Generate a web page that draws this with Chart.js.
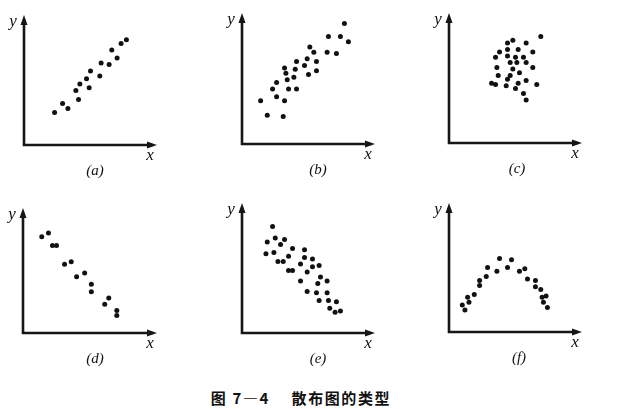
<!DOCTYPE html>
<html lang="zh">
<head>
<meta charset="UTF-8">
<title>散布图的类型</title>
<script src="https://cdn.jsdelivr.net/npm/chart.js"></script>
<style>
  body { margin: 0; background: #fff; }
  #page { position: relative; width: 618px; height: 409px; overflow: hidden; }
  canvas { position: absolute; }
  .lbl { position: absolute; font-family: "Liberation Serif", "DejaVu Serif", serif; font-style: italic; color: #111; transform: translate(-50%, -50%); }
  .ax { font-size: 17px; }
  .tag { font-size: 15px; }
  #caption { position: absolute; left: 0; width: 602px; top: 387px; text-align: center; font-family: "Noto Sans CJK SC", sans-serif; font-weight: bold; font-size: 15px; color: #111; letter-spacing: 1.6px; }
</style>
</head>
<body>
<div id="page">
  <div id="caption">图 7—4　&nbsp;散布图的类型</div>
</div>

<script>
// panel tags
const tags = ['(a)', '(b)', '(c)', '(d)', '(e)', '(f)'];

// point values (0..100 along each axis)
const aX = [23, 29, 33, 41, 39, 42, 47, 49, 50, 57, 58, 64, 66, 70, 73, 77];
const aY = [25, 32, 28, 35, 42, 47, 51, 44, 57, 53, 63, 62, 73, 67, 78, 81];

const bX = [14, 19, 31, 32, 26, 23, 26, 32, 33, 34, 35, 39, 40, 41, 41, 47, 49, 51, 54, 56, 56, 50, 64, 71, 65, 74, 77, 80];
const bY = [33, 22, 21, 33, 36, 42, 47, 58, 54, 49, 42, 51, 57, 63, 42, 60, 65, 74, 70, 63, 56, 53, 70, 69, 82, 82, 92, 78];

const cX = [69, 48, 44, 58, 38, 44, 52, 35, 44, 50, 56, 63, 46, 51, 58, 36, 48, 63, 53, 37, 46, 44, 32, 35, 52, 58, 66, 43, 50, 56, 58];
const cY = [82, 79, 77, 77, 70, 72, 72, 66, 67, 66, 66, 70, 62, 62, 62, 58, 57, 58, 54, 52, 52, 49, 46, 45, 46, 48, 45, 44, 42, 38, 33];

const dX = [14, 19, 22, 25, 31, 36, 40, 46, 51, 51, 64, 61, 70, 70];
const dY = [77, 80, 70, 70, 55, 57, 45, 48, 39, 33, 28, 23, 18, 14];

const eX = [23, 25, 19, 32, 29, 18, 24, 27, 31, 35, 38, 35, 38, 47, 47, 53, 44, 53, 58, 49, 44, 59, 57, 64, 49, 56, 64, 58, 65, 71, 66, 70, 74];
const eY = [82, 73, 70, 72, 68, 61, 62, 55, 55, 59, 65, 48, 48, 64, 58, 57, 53, 51, 52, 47, 40, 43, 38, 40, 32, 31, 31, 25, 25, 24, 19, 16, 17];

const fX = [10, 12, 14, 15, 19, 23, 23, 28, 29, 36, 38, 44, 47, 53, 57, 59, 65, 65, 69, 70, 73, 71, 74];
const fY = [21, 17, 27, 23, 29, 40, 36, 43, 50, 47, 57, 50, 56, 47, 49, 41, 40, 35, 33, 27, 28, 23, 19];

const seriesX = [aX, bX, cX, dX, eX, fX];
const seriesY = [aY, bY, cY, dY, eY, fY];

// plot box of each panel on the page: y-axis x, arrow tips, x-axis y; tagX = centre of the (a)..(f) tag
const boxes = [
  { left: 24,  top: 15,  right: 157, bottom: 145, tagX: 95 },
  { left: 242, top: 13,  right: 375, bottom: 144, tagX: 318 },
  { left: 449, top: 13,  right: 582, bottom: 143, tagX: 517 },
  { left: 23,  top: 208, right: 157, bottom: 333, tagX: 95 },
  { left: 242, top: 203, right: 375, bottom: 333, tagX: 318 },
  { left: 449, top: 203, right: 582, bottom: 332, tagX: 519 }
];
const M = 14; // canvas margin around the plot box

// axes with arrow heads, drawn from the scale positions
const arrowAxes = {
  id: 'arrowAxes',
  beforeDatasetsDraw(chart) {
    const c = chart.ctx;
    const x0 = chart.scales.x.getPixelForValue(0);
    const x1 = chart.scales.x.getPixelForValue(100);
    const y0 = chart.scales.y.getPixelForValue(0);
    const y1 = chart.scales.y.getPixelForValue(100);
    c.save();
    c.strokeStyle = '#161616';
    c.fillStyle = '#161616';
    c.lineWidth = 2.6;
    c.lineCap = 'square';
    c.beginPath();
    c.moveTo(x0, y1 + 6);
    c.lineTo(x0, y0);
    c.lineTo(x1 - 6, y0);
    c.stroke();
    // y arrow
    c.beginPath();
    c.moveTo(x0, y1);
    c.lineTo(x0 - 3.5, y1 + 10);
    c.lineTo(x0 + 3.5, y1 + 10);
    c.closePath();
    c.fill();
    // x arrow
    c.beginPath();
    c.moveTo(x1, y0);
    c.lineTo(x1 - 10, y0 - 3.5);
    c.lineTo(x1 - 10, y0 + 3.5);
    c.closePath();
    c.fill();
    c.restore();
  }
};

const page = document.getElementById('page');

function addLabel(text, x, y, cls) {
  const s = document.createElement('div');
  s.className = 'lbl ' + cls;
  s.textContent = text;
  s.style.left = x + 'px';
  s.style.top = y + 'px';
  page.appendChild(s);
}

boxes.forEach((b, i) => {
  const w = b.right - b.left + 2 * M;
  const h = b.bottom - b.top + 2 * M;
  const cv = document.createElement('canvas');
  cv.width = w;
  cv.height = h;
  cv.style.left = (b.left - M) + 'px';
  cv.style.top = (b.top - M) + 'px';
  page.appendChild(cv);

  const pts = seriesX[i].map((x, k) => ({ x: x, y: seriesY[i][k] }));

  new Chart(cv.getContext('2d'), {
    type: 'scatter',
    data: {
      datasets: [{
        data: pts,
        pointRadius: 2.5,
        pointBackgroundColor: '#111',
        pointBorderWidth: 0
      }]
    },
    options: {
      responsive: false,
      animation: false,
      devicePixelRatio: 1,
      layout: { padding: M },
      plugins: { legend: { display: false }, tooltip: { enabled: false } },
      scales: {
        x: { display: false, min: 0, max: 100 },
        y: { display: false, min: 0, max: 100 }
      }
    },
    plugins: [arrowAxes]
  });

  addLabel('y', b.left - 11, b.top + 6, 'ax');
  addLabel('x', b.right - 7, b.bottom + 10, 'ax');
  addLabel(tags[i], b.tagX, b.bottom + 25, 'tag');
});
</script>
</body>
</html>
